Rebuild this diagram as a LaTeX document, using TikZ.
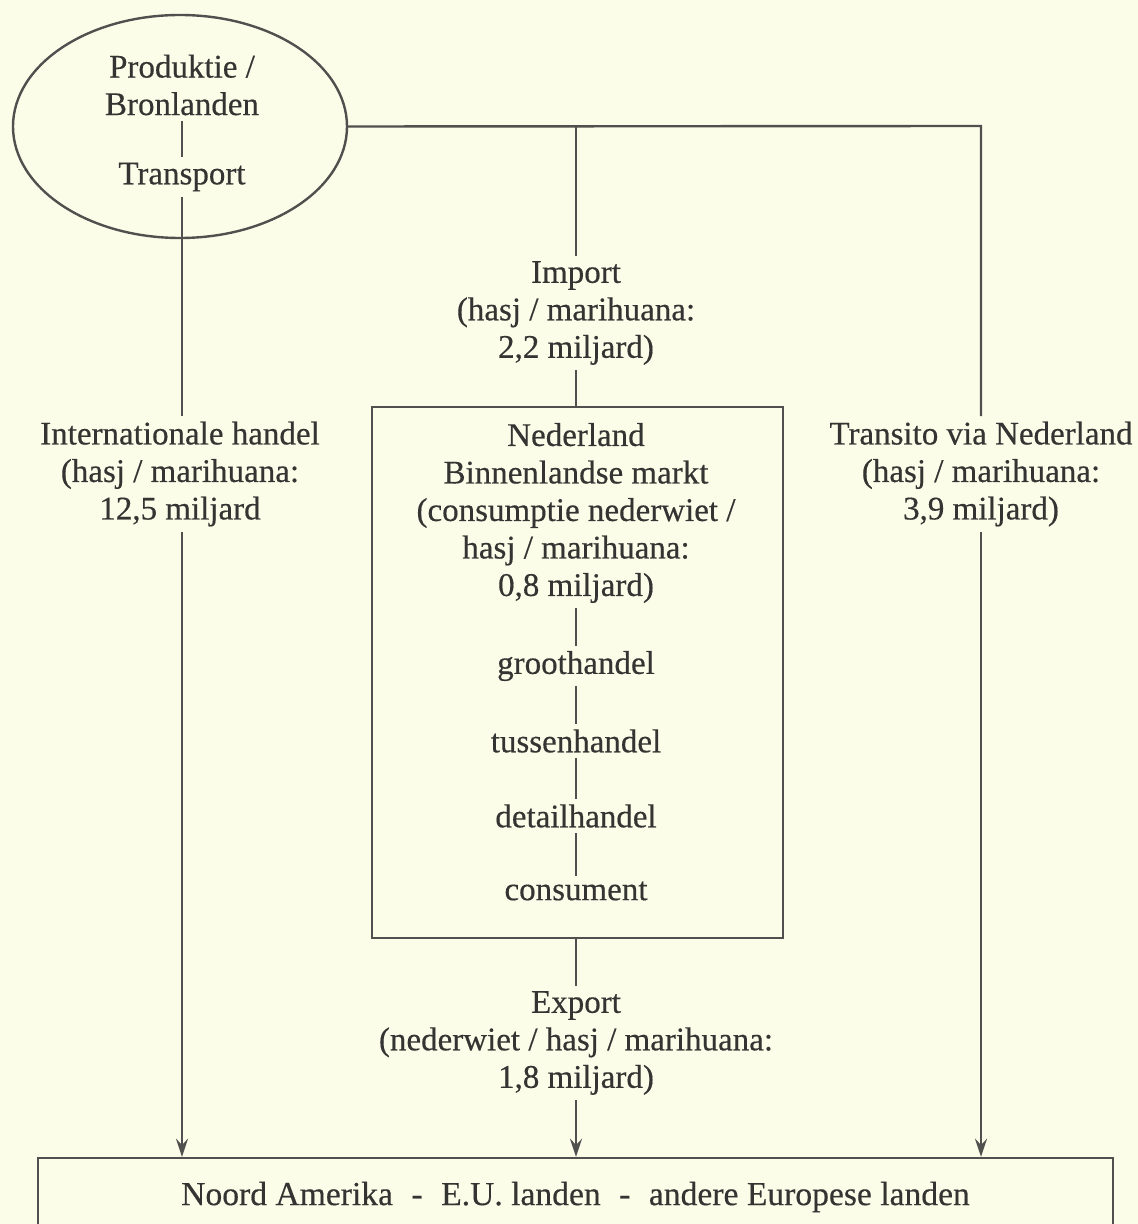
\documentclass[tikz,border=0pt]{standalone}
\usepackage{fontspec}
\setmainfont{Liberation Serif}[FakeBold=0.4]
\usetikzlibrary{arrows.meta,shapes.geometric}
\definecolor{bgcol}{RGB}{252,253,232}
\definecolor{inkcol}{RGB}{52,52,50}
\definecolor{linecol}{RGB}{80,80,78}
\newdimen\pxu \pxu=0.5pt
\begin{document}
\begin{tikzpicture}[x=0.5pt,y=-0.5pt,
  txt/.style={text=inkcol,font=\fontsize{16.5pt}{18.75pt}\selectfont,align=center,inner sep=2.5pt},
  conn/.style={draw=linecol,line width=1.2pt},
  arr/.style={conn,-{Stealth[length=9pt,width=6pt,inset=3pt]}},
  frame/.style={draw=linecol,line width=1.2pt,rectangle,inner sep=0pt}]
\useasboundingbox (0,0) rectangle (1138,1224);
\fill[bgcol] (0,0) rectangle (1138,1224);
\clip (0,0) rectangle (1138,1224);

% source ellipse
\node[draw=linecol,line width=1.2pt,ellipse,minimum width=334\pxu,minimum height=223\pxu,inner sep=0pt] (ell) at (180,126.5) {};
\node[txt] (prod) at (182,85) {Produktie /\\Bronlanden};
\node[txt] (transport) at (182,177) {Transport};

% labels
\node[txt] (intl) at (180,474) {Internationale handel\\(hasj / marihuana:\\12,5 miljard};
\node[txt] (import) at (576,313) {Import\\(hasj / marihuana:\\2,2 miljard)};
\node[txt] (transito) at (981,474) {Transito via Nederland\\(hasj / marihuana:\\3,9 miljard)};
\node[txt] (export) at (576,1043) {Export\\(nederwiet / hasj / marihuana:\\1,8 miljard)};

% Netherlands box
\node[frame,minimum width=411\pxu,minimum height=531\pxu] (nl) at (577.5,672.5) {};
\node[txt] (nltext) at (576,513) {Nederland\\Binnenlandse markt\\(consumptie nederwiet /\\hasj / marihuana:\\0,8 miljard)};
\node[txt] (groot) at (576,666) {groothandel};
\node[txt] (tussen) at (576,741) {tussenhandel};
\node[txt] (detail) at (576,816) {detailhandel};
\node[txt] (consument) at (576,891) {consument};

% destination box
\node[frame,minimum width=1075\pxu,minimum height=78\pxu,text=inkcol,font=\fontsize{16.8pt}{18.75pt}\selectfont] (world) at (575.5,1197) {Noord Amerika\hspace{0.55em}-\hspace{0.55em}E.U. landen\hspace{0.55em}-\hspace{0.55em}andere Europese landen};

\coordinate (rc) at (981,126);
\coordinate (ic) at (576,126);

% connectors
\draw[conn] (prod) -- (transport);
\draw[conn] (transport.south) -- (transport.south |- intl.north);
\draw[arr] (transport.south |- intl.south) -- (transport.south |- world.north);
\draw[conn] (ell.east) -- (rc) -- (rc |- transito.north);
\draw[arr] (rc |- transito.south) -- (rc |- world.north);
\draw[conn] (ic) -- (import.north);
\draw[conn] (import.south) -- (import.south |- nl.north);
\draw[conn] (nltext.south) -- (groot.north);
\draw[conn] (groot) -- (tussen);
\draw[conn] (tussen) -- (detail);
\draw[conn] (detail) -- (consument);
\draw[conn] (export.north |- nl.south) -- (export.north);
\draw[arr] (export.south) -- (export.south |- world.north);
\end{tikzpicture}
\end{document}
